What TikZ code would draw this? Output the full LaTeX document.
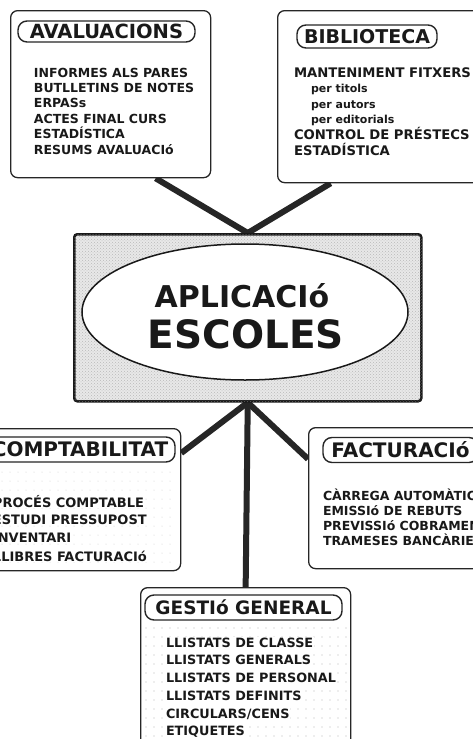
\documentclass[tikz,border=0pt]{standalone}
\usepackage{fontspec}
\setmainfont{DejaVu Sans}
\usetikzlibrary{patterns,shapes.geometric}
\pgfdeclarelayer{bg}
\pgfsetlayers{bg,main}
\begin{document}
\begin{tikzpicture}[x=1pt,y=-1pt,
  box/.style={draw=black!85,line width=1.3pt,rounded corners=7pt,fill=white,anchor=north west,inner sep=0pt},
  pill/.style={draw=black!85,line width=1.4pt,rounded corners=9pt,fill=white,inner sep=0pt,text=black!90},
  item/.style={anchor=base west,inner sep=0.8pt,fill=white,font=\bfseries\fontsize{12.5}{15}\selectfont,text=black!90},
  subitem/.style={item,font=\bfseries\fontsize{11}{13}\selectfont},
  conn/.style={line width=6pt,draw=black!85},
  griddot/.style={fill=gray!55},
]
\useasboundingbox (0,0) rectangle (473,739);
\clip (0,0) rectangle (473,739);

% central box
\node[draw=black!90,line width=2.5pt,rounded corners=3pt,fill=gray!18,
      postaction={pattern=crosshatch dots,pattern color=gray!55},
      minimum width=347pt,minimum height=167pt,anchor=north west,inner sep=0pt] (cen) at (73,233) {};
\node[ellipse,draw=black!90,line width=1.5pt,fill=white,minimum width=326pt,minimum height=136pt,inner sep=0pt] (ell) at (245,312) {};
\node[anchor=base,inner sep=0pt,text=black!90,font=\bfseries\fontsize{30}{30}\selectfont] (apl) at (242,307) {APLICACIó};
\node[anchor=base,inner sep=0pt,text=black!90,font=\bfseries\fontsize{39}{39}\selectfont] (esc) at (246,348) {ESCOLES};

% boxes
\node[box,minimum width=200pt,minimum height=167pt] (aval) at (10,10) {};
\node[box,minimum width=260pt,minimum height=172pt] (bib) at (277,10) {};
\node[box,minimum width=220pt,minimum height=142pt] (comp) at (-40,428) {};
\node[box,minimum width=220pt,minimum height=141pt] (fact) at (308,427) {};
\node[box,minimum width=210pt,minimum height=200pt] (gest) at (140,587) {};

% dotted grids
\foreach \yy in {628,637,...,739}
  \foreach \xx in {146,154,...,346}
    \fill[griddot] (\xx,\yy) circle (0.55pt);
\foreach \yy in {472,481,...,566}
  \foreach \xx in {2,10,...,176}
    \fill[griddot,fill=gray!40] (\xx,\yy) circle (0.5pt);

% titles
\node[pill,minimum width=177pt,minimum height=21pt,font=\bfseries\fontsize{19.5}{19.5}\selectfont] (atitle) at (106.5,31.5) {AVALUACIONS};
\node[pill,minimum width=140pt,minimum height=23pt,font=\bfseries\fontsize{19}{19}\selectfont] (btitle) at (367,36.5) {BIBLIOTECA};
\node[pill,minimum width=190pt,minimum height=25pt,font=\bfseries\fontsize{20}{20}\selectfont] (ctitle) at (80,449.5) {COMPTABILITAT};
\node[pill,minimum width=155pt,minimum height=25pt,font=\bfseries\fontsize{20}{20}\selectfont] (ftitle) at (400.5,450) {FACTURACIó};
\node[pill,minimum width=197pt,minimum height=25pt,font=\bfseries\fontsize{18.5}{18.5}\selectfont] (gtitle) at (243.5,607.5) {GESTIó GENERAL};

% AVALUACIONS items
\node[item] (a1) at (33,77) {INFORMES ALS PARES};
\node[item] (a2) at (33,92.4) {BUTLLETINS DE NOTES};
\node[item] (a3) at (33,107.8) {ERPASs};
\node[item] (a4) at (33,123.2) {ACTES FINAL CURS};
\node[item] (a5) at (33,138.6) {ESTADÍSTICA};
\node[item] (a6) at (33,154) {RESUMS AVALUACIó};

% BIBLIOTECA items
\node[item,font=\bfseries\fontsize{13.2}{15}\selectfont] (b1) at (293,77) {MANTENIMENT FITXERS};
\node[subitem] (b2) at (310,92.5) {per titols};
\node[subitem] (b3) at (310,108) {per autors};
\node[subitem] (b4) at (310,123.5) {per editorials};
\node[item,font=\bfseries\fontsize{13.2}{15}\selectfont] (b5) at (293,139.5) {CONTROL DE PRÉSTECS};
\node[item,font=\bfseries\fontsize{13.2}{15}\selectfont] (b6) at (293,155) {ESTADÍSTICA};

% COMPTABILITAT items
\node[item,font=\bfseries\fontsize{13}{15}\selectfont] (c1) at (-8,507) {PROCÉS COMPTABLE};
\node[item,font=\bfseries\fontsize{13}{15}\selectfont] (c2) at (-8,524.5) {ESTUDI PRESSUPOST};
\node[item,font=\bfseries\fontsize{13}{15}\selectfont] (c3) at (-8,542.5) {INVENTARI};
\node[item,font=\bfseries\fontsize{13}{15}\selectfont] (c4) at (-8,561) {LLIBRES FACTURACIó};

% FACTURACIO items
\node[item,font=\bfseries\fontsize{12.5}{15}\selectfont] (f1) at (322,500) {CÀRREGA AUTOMÀTICA};
\node[item,font=\bfseries\fontsize{12.5}{15}\selectfont] (f2) at (322,515) {EMISSIó DE REBUTS};
\node[item,font=\bfseries\fontsize{12.5}{15}\selectfont] (f3) at (322,530) {PREVISSIó COBRAMENTS};
\node[item,font=\bfseries\fontsize{12.5}{15}\selectfont] (f4) at (322,545.5) {TRAMESES BANCÀRIES};

% GESTIO items
\node[item,font=\bfseries\fontsize{12.8}{15}\selectfont] (g1) at (165,647) {LLISTATS DE CLASSE};
\node[item,font=\bfseries\fontsize{12.8}{15}\selectfont] (g2) at (165,664.5) {LLISTATS GENERALS};
\node[item,font=\bfseries\fontsize{12.8}{15}\selectfont] (g3) at (165,682.5) {LLISTATS DE PERSONAL};
\node[item,font=\bfseries\fontsize{12.8}{15}\selectfont] (g4) at (165,700.5) {LLISTATS DEFINITS};
\node[item,font=\bfseries\fontsize{12.8}{15}\selectfont] (g5) at (165,718) {CIRCULARS/CENS};
\node[item,font=\bfseries\fontsize{12.8}{15}\selectfont] (g6) at (165,735.5) {ETIQUETES};

% connectors
\begin{pgfonlayer}{bg}
\draw[conn] ([xshift=45pt]aval.south) -- (cen.north);
\draw[conn] ([xshift=-77pt]bib.south) -- (cen.north);
\draw[conn] (cen.south) -- ([yshift=-25pt]comp.north east);
\draw[conn] (cen.south) -- ([yshift=-32pt]fact.north west);
\draw[conn] (cen.south) -- (gest.north);
\end{pgfonlayer}
\end{tikzpicture}
\end{document}
